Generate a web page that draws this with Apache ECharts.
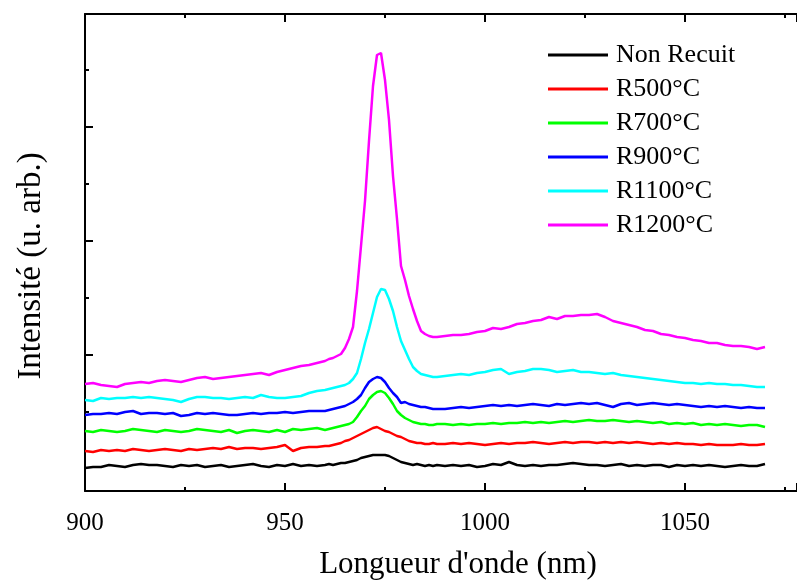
<!DOCTYPE html>
<html><head><meta charset="utf-8">
<script src="https://cdn.jsdelivr.net/npm/echarts@6/dist/echarts.min.js"></script>
<style>html,body{margin:0;padding:0;background:#fff}#c{width:797px;height:580px}</style>
</head><body><div id="c"></div>
<script>
const wavelength = [
900,902,904,906,908,910,912,914,916,918,920,922,924,926,928,930,932,934,936,938,940,942,944,946,948,950,952,954,956,958,
960,961,962,963,964,965,966,967,968,969,970,971,972,973,974,975,976,977,978,979,980,981,982,983,984,985,986,987,988,
990,992,994,996,998,1000,1002,1004,1006,1008,1010,1012,1014,1016,1018,1020,1022,1024,1026,1028,1030,1032,1034,1036,1038,1040,1042,1044,1046,1048,1050,1052,1054,1056,1058,1060,1062,1064,1066,1068,1070];
const nonRecuit = [
23,24,24,26,25,24,26,27,26,26,25,24,26,25,26,24,25,26,24,25,26,27,25,24,26,25,27,25,26,25,
26,27,26,27,28,28,29,30,31,33,34,35,36,36,36,36,35,33,31,29,28,27,26,27,26,25,26,25,26,
25,26,25,26,24,25,27,26,29,26,25,26,25,26,26,27,28,27,26,26,25,26,27,25,26,25,26,26,24,26,25,26,25,26,25,24,25,26,25,25,27];
const r500 = [
40,39,41,40,41,40,42,41,40,41,42,41,40,42,41,42,43,42,44,42,43,43,42,43,44,46,40,43,44,44,
45,45,46,47,48,50,51,53,55,57,59,61,63,64,62,60,59,57,55,54,52,50,49,48,48,47,47,48,47,
47,48,47,48,47,46,47,48,47,48,48,49,48,47,48,49,48,49,49,48,49,48,49,48,49,48,47,48,47,48,47,47,46,47,46,46,46,47,46,46,47];
const r700 = [
60,59,61,60,59,60,62,61,60,59,61,60,59,60,62,61,60,59,61,58,60,61,60,59,61,59,62,61,62,63,
61,62,63,64,65,66,67,69,74,80,85,92,96,99,100,98,93,87,80,76,73,71,69,68,67,67,66,66,67,
67,66,67,66,67,67,68,67,68,68,69,68,69,68,69,70,69,70,71,70,70,71,70,69,70,69,68,69,67,68,67,68,66,67,66,67,66,65,66,66,64];
const r900 = [
76,77,77,78,77,79,80,77,78,78,77,78,75,76,78,77,78,77,76,76,77,78,77,78,78,79,78,79,80,80,
80,81,82,83,84,85,87,89,92,96,103,109,112,114,113,109,103,98,94,88,89,87,86,85,84,84,83,82,82,
82,83,84,83,84,85,86,85,86,85,86,87,86,85,87,86,87,88,87,88,86,84,87,88,86,87,88,87,86,87,86,85,84,85,84,85,84,83,84,83,83];
const r1100 = [
91,90,93,92,93,93,94,93,94,93,92,91,89,92,94,94,93,93,92,93,94,93,96,94,93,93,94,95,98,100,
101,102,103,104,105,106,108,112,118,132,148,162,178,194,202,201,192,180,164,150,141,132,124,120,117,116,115,114,114,
115,116,117,116,118,119,121,122,117,119,120,122,122,121,119,120,121,119,119,118,117,118,116,115,114,113,112,111,110,109,108,108,107,108,107,107,106,106,105,104,104];
const r1200 = [
107,108,106,105,104,107,108,109,108,110,111,110,109,111,113,114,112,113,114,115,116,117,118,116,119,121,123,125,126,128,
130,132,133,135,137,143,152,164,200,245,290,350,405,436,438,411,371,315,272,225,211,195,182,170,160,157,155,154,154,
155,156,156,157,159,160,163,162,164,167,168,170,171,174,172,175,175,176,176,177,174,170,168,166,164,161,160,157,156,154,153,151,150,148,148,146,145,145,144,142,144];

const seriesNames = ['Non Recuit','R500°C','R700°C','R900°C','R1100°C','R1200°C'];
const seriesValues = [nonRecuit, r500, r700, r900, r1100, r1200];
const seriesColors = ['#000000','#ff0000','#00ff00','#0000ff','#00ffff','#ff00ff'];
const xTickInterval = 50;
const yMajorTicks = [136, 250, 364];
const yMinorTicks = [79, 193, 307, 421];
const xTitle = "Longueur d'onde (nm)";
const yTitle = 'Intensité (u. arb.)';

const FONT = 'Liberation Serif';
const chart = echarts.init(document.getElementById('c'), null, {renderer:'canvas'});
const xBase = {
  type:'value', min:900, max:1078, interval:xTickInterval,
  axisLine:{show:true, onZero:false, lineStyle:{color:'#000', width:2}}, splitLine:{show:false},
  axisTick:{show:true, inside:true, length:8, lineStyle:{color:'#000', width:2}},
  minorTick:{show:true, splitNumber:2, length:4, lineStyle:{color:'#000', width:2}},
  minorSplitLine:{show:false}
};
const yBase = {
  type:'value', min:0, max:477, splitLine:{show:false},
  axisLine:{show:true, onZero:false, lineStyle:{color:'#000', width:2}},
  axisLabel:{show:false}
};
chart.setOption({
  animation:false,
  backgroundColor:'#fff',
  grid:{left:85, top:14, right:0, bottom:89, containLabel:false},
  xAxis:[
    Object.assign({}, xBase, {position:'bottom',
      axisLabel:{show:true, margin:20, fontSize:25, fontFamily:FONT, color:'#000',
        showMaxLabel:false, formatter:(v) => String(v)}}),
    Object.assign({}, xBase, {position:'top', axisLabel:{show:false}})
  ],
  yAxis:[
    Object.assign({}, yBase, {position:'left',
      axisTick:{show:true, inside:true, length:8, customValues:yMajorTicks, lineStyle:{color:'#000', width:2}}}),
    Object.assign({}, yBase, {position:'left', axisLine:{show:false},
      axisTick:{show:true, inside:true, length:4, customValues:yMinorTicks, lineStyle:{color:'#000', width:2}}})
  ],
  legend:{
    orient:'vertical', left:543, top:37, itemWidth:60, itemHeight:3, icon:'rect',
    itemGap:8, data:seriesNames,
    textStyle:{fontSize:26, fontFamily:FONT, color:'#000', lineHeight:26, padding:[0,0,0,3]}
  },
  graphic:[
    {type:'text', x:458, y:565, style:{text:xTitle, fontSize:31, fontFamily:FONT, fill:'#000', align:'center', verticalAlign:'middle'}},
    {type:'text', x:31, y:266, rotation:Math.PI/2, style:{text:yTitle, fontSize:33, fontFamily:FONT, fill:'#000', align:'center', verticalAlign:'middle'}}
  ],
  series: seriesNames.map((name, k) => ({
    name: name, type:'line', showSymbol:false, symbol:'none',
    data: wavelength.map((x, i) => [x, seriesValues[k][i]]),
    lineStyle:{color:seriesColors[k], width:2.5},
    itemStyle:{color:seriesColors[k]},
    z: 2 + k
  }))
});
</script>
</body></html>
